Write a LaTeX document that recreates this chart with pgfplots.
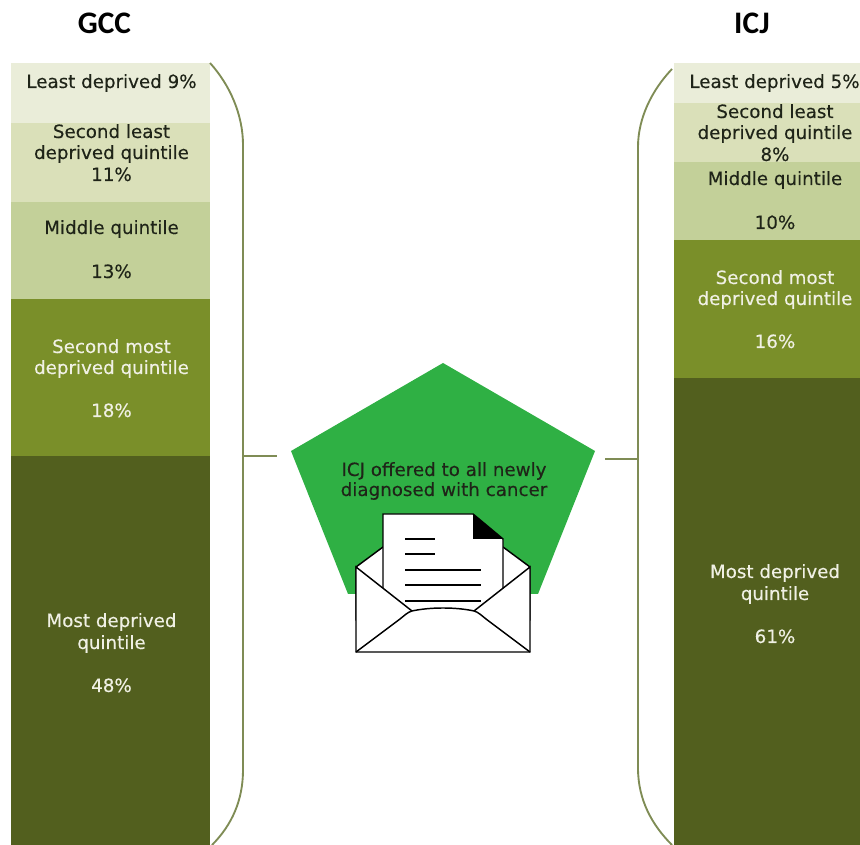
\documentclass[border=0pt]{standalone}
\usepackage{fontspec}
\setmainfont{DejaVu Sans}
\newfontfamily\labfont[FakeBold=0.25]{DejaVu Sans}
\newfontfamily\titlefont{Carlito}
\usepackage{pgfplots}
\pgfplotsset{compat=1.18}

\definecolor{q1}{HTML}{EAEDD9}
\definecolor{q2}{HTML}{DAE0B9}
\definecolor{q3}{HTML}{C3D099}
\definecolor{q4}{HTML}{7A8F29}
\definecolor{q5}{HTML}{525F1E}
\definecolor{penta}{HTML}{2FB044}
\definecolor{brace}{HTML}{7F8C55}
\definecolor{lab}{HTML}{1F2418}
\definecolor{labw}{HTML}{F0F0E4}

% y given in pixels from the top of the picture
\newcommand{\lab}[4]{\node[anchor=base,text=#4,inner sep=0pt,font=\labfont\fontsize{13.7}{15}\selectfont] at (axis cs:#1,{845-#2-1}) {#3};}

\pgfplotsset{pane/.style={
    at={(0,0)}, anchor=south west,
    scale only axis, width=645pt, height=633.75pt,
    xmin=0, xmax=860, ymin=0, ymax=845,
    hide axis,
    ybar stacked,
    reverse stacked plots=false,
}}

\begin{document}
\begin{tikzpicture}
\useasboundingbox (0,0) rectangle (645pt,633.75pt);
% GCC, bottom to top (most deprived 48% ... least deprived 9%)
\begin{axis}[pane, bar width=199]
\addplot[fill=q5, draw=none] coordinates {(110.5,389)};
\addplot[fill=q4, draw=none] coordinates {(110.5,157)};
\addplot[fill=q3, draw=none] coordinates {(110.5,97)};
\addplot[fill=q2, draw=none] coordinates {(110.5,79)};
\addplot[fill=q1, draw=none] coordinates {(110.5,60)};
\end{axis}
% ICJ, bottom to top (most deprived 61% ... least deprived 5%)
\begin{axis}[pane, bar width=186]
\addplot[fill=q5, draw=none] coordinates {(767,467)};
\addplot[fill=q4, draw=none] coordinates {(767,138)};
\addplot[fill=q3, draw=none] coordinates {(767,78)};
\addplot[fill=q2, draw=none] coordinates {(767,59)};
\addplot[fill=q1, draw=none] coordinates {(767,40)};

% brackets and stubs
\draw[brace, line width=1.4pt] (axis cs:210,{845-63}) .. controls (axis cs:230,{845-85}) and (axis cs:243,{845-115}) .. (axis cs:243,{845-145})
  -- (axis cs:243,{845-770}) .. controls (axis cs:243,{845-800}) and (axis cs:232,{845-825}) .. (axis cs:212,0);
\draw[brace, line width=1.4pt] (axis cs:672,{845-69}) .. controls (axis cs:652,{845-90}) and (axis cs:638,{845-118}) .. (axis cs:638,{845-147})
  -- (axis cs:638,{845-768}) .. controls (axis cs:638,{845-800}) and (axis cs:652,{845-825}) .. (axis cs:672,0);
\draw[brace, line width=1.4pt] (axis cs:244,{845-456}) -- (axis cs:277,{845-456});
\draw[brace, line width=1.4pt] (axis cs:605,{845-459}) -- (axis cs:638,{845-459});

% pentagon
\fill[penta] (axis cs:443,{845-363}) -- (axis cs:595,{845-451}) -- (axis cs:538,{845-594}) -- (axis cs:348,{845-594}) -- (axis cs:291,{845-451}) -- cycle;

% envelope with letter
\draw[black, line width=1.1pt, fill=white] (axis cs:356,{845-567}) -- (axis cs:383,{845-547}) -- (axis cs:503,{845-547}) -- (axis cs:530,{845-567}) -- (axis cs:530,{845-620}) -- (axis cs:356,{845-620}) -- cycle;
\draw[black, line width=1.1pt, fill=white] (axis cs:383,{845-620}) -- (axis cs:383,{845-514}) -- (axis cs:473,{845-514}) -- (axis cs:503,{845-539}) -- (axis cs:503,{845-620}) -- cycle;
\fill[black] (axis cs:473,{845-514}) -- (axis cs:503,{845-539}) -- (axis cs:473,{845-539}) -- cycle;
\draw[black, line width=1.3pt] (axis cs:405,{845-539}) -- (axis cs:435,{845-539});
\draw[black, line width=1.3pt] (axis cs:405,{845-554}) -- (axis cs:435,{845-554});
\draw[black, line width=1.3pt] (axis cs:405,{845-570}) -- (axis cs:481,{845-570});
\draw[black, line width=1.3pt] (axis cs:405,{845-585}) -- (axis cs:481,{845-585});
\draw[black, line width=1.3pt] (axis cs:405,{845-601}) -- (axis cs:481,{845-601});
\draw[black, line width=1.1pt, fill=white] (axis cs:356,{845-567}) -- (axis cs:412,{845-611}) .. controls (axis cs:430,{845-607}) and (axis cs:456,{845-607}) .. (axis cs:474,{845-611}) -- (axis cs:530,{845-567}) -- (axis cs:530,{845-652}) -- (axis cs:356,{845-652}) -- cycle;
\draw[black, line width=1.1pt] (axis cs:356,{845-652}) -- (axis cs:400,{845-619}) .. controls (axis cs:405,{845-615}) and (axis cs:408,{845-612}) .. (axis cs:412,{845-611});
\draw[black, line width=1.1pt] (axis cs:530,{845-652}) -- (axis cs:486,{845-619}) .. controls (axis cs:481,{845-615}) and (axis cs:478,{845-612}) .. (axis cs:474,{845-611});

% titles
\node[anchor=base,font=\titlefont\bfseries\fontsize{23.5}{26}\selectfont] at (axis cs:104.5,{845-33.5}) {GCC};
\node[anchor=base,font=\titlefont\bfseries\fontsize{23.5}{26}\selectfont] at (axis cs:752,{845-33.5}) {ICJ};

% GCC labels
\lab{111.5}{87}{Least deprived 9\%}{lab}
\lab{111.5}{137}{Second least}{lab}
\lab{111.5}{158}{deprived quintile}{lab}
\lab{111.5}{180}{11\%}{lab}
\lab{111.5}{233}{Middle quintile}{lab}
\lab{111.5}{277}{13\%}{lab}
\lab{111.5}{352}{Second most}{labw}
\lab{111.5}{373}{deprived quintile}{labw}
\lab{111.5}{416}{18\%}{labw}
\lab{111.5}{626}{Most deprived}{labw}
\lab{111.5}{648}{quintile}{labw}
\lab{111.5}{691}{48\%}{labw}

% ICJ labels
\lab{774.5}{87}{Least deprived 5\%}{lab}
\lab{775}{117}{Second least}{lab}
\lab{775}{138}{deprived quintile}{lab}
\lab{775}{160}{8\%}{lab}
\lab{775}{184}{Middle quintile}{lab}
\lab{775}{228}{10\%}{lab}
\lab{775}{283}{Second most}{labw}
\lab{775}{304}{deprived quintile}{labw}
\lab{775}{347}{16\%}{labw}
\lab{775}{577}{Most deprived}{labw}
\lab{775}{599}{quintile}{labw}
\lab{775}{642}{61\%}{labw}

% centre text
\lab{444}{475}{ICJ offered to all newly}{lab}
\lab{444}{495}{diagnosed with cancer}{lab}
\end{axis}
\end{tikzpicture}
\end{document}
